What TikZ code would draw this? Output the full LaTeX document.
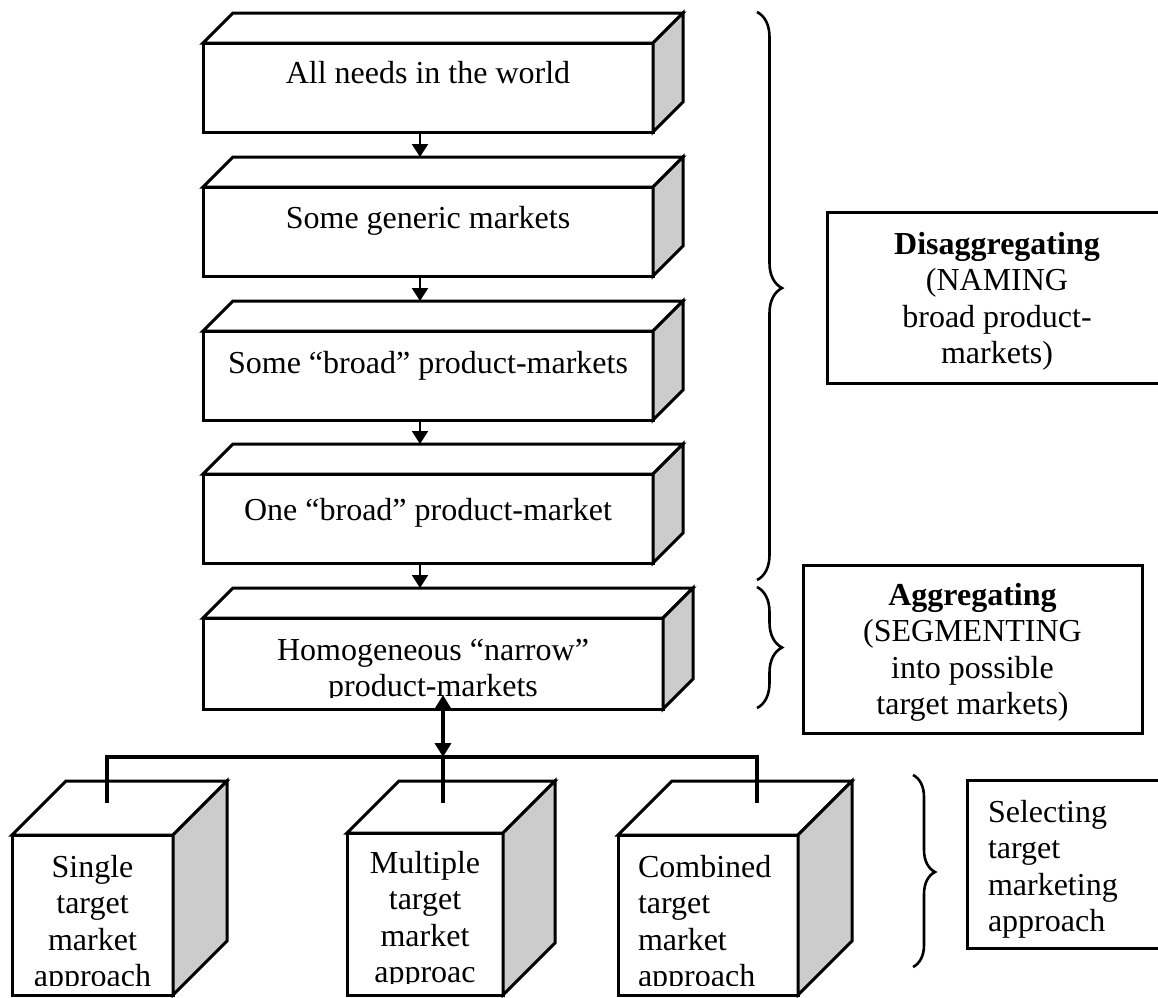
\documentclass[tikz,border=0pt]{standalone}
\usepackage{fontspec}
\setmainfont{Liberation Serif}
\usetikzlibrary{arrows.meta,decorations.pathreplacing,calc}

\definecolor{sideshade}{RGB}{204,204,204}

\tikzset{
  face/.style={draw, line width=3pt, fill=white, inner sep=0pt, outer sep=0pt},
  rim/.style={draw, line width=3pt},
  lbl/.style={inner sep=0pt, outer sep=0pt, font=\fontsize{32}{36.5}\selectfont},
  flow/.style={line width=2pt, -{Triangle[width=16pt,length=13pt]}},
  busline/.style={line width=4pt},
  hubarrow/.style={line width=4pt, {Triangle[width=16pt,length=14pt]}-{Triangle[width=16pt,length=14pt]}},
  curly/.style={decorate, decoration={brace, amplitude=#1}, line width=2.6pt},
  panel/.style={draw, line width=3pt, inner sep=0pt, outer sep=0pt},
}

% a box with a lit top face and a shaded right side:
% name, left, top, width, height, depth
\newcommand{\prism}[6]{%
  \node[face, anchor=north west, minimum width=#4pt, minimum height=#5pt] (#1) at (#2,#3) {};
  \draw[rim, fill=white] (#1.north west) -- ++(#6,-#6) -- ++(#4,0) -- (#1.north east) -- cycle;
  \draw[rim, fill=sideshade] (#1.north east) -- ++(#6,-#6) -- ++(0,#5) -- (#1.south east) -- cycle;
  \coordinate (#1-back) at ($(#1.north)+(#6,-#6)$);
}

\begin{document}
\begin{tikzpicture}[x=1pt, y=-1pt]
  \useasboundingbox (0,0) rectangle (1158,997);
  \clip (0,0) rectangle (1158,997);

  % the chain of market levels
  \prism{B1}{203}{43}{450}{89}{30}
  \prism{B2}{203}{187}{450}{89}{30}
  \prism{B3}{203}{331}{450}{89}{30}
  \prism{B4}{203}{474}{450}{89}{30}
  \prism{B5}{203}{618}{460}{91}{30}

  \node[lbl, anchor=base] (t1) at (428,83) {All needs in the world};
  \node[lbl, anchor=base] (t2) at (428,228) {Some generic markets};
  \node[lbl, anchor=base] (t3) at (428,373) {Some “broad” product-markets};
  \node[lbl, anchor=base] (t4) at (428,520) {One “broad” product-market};
  \begin{scope}
    \clip (B5.north west) rectangle ($(B5.south east)+(0,-12)$);
    \node[lbl, align=center, anchor=north] (t5) at (433,634.45)
      {\strut Homogeneous “narrow”\\product-markets};
  \end{scope}

  \foreach \a/\b in {B1/B2, B2/B3, B3/B4, B4/B5} {
    \coordinate (\a go) at ([xshift=-8pt]\a.south);
    \draw[flow] (\a go) -- (\a go |- \b-back);
  }

  % the three targeting approaches
  \prism{C1}{12}{835}{161}{160}{54}
  \prism{C2}{347}{833}{156}{162}{52}
  \prism{C3}{618}{835}{180}{160}{54}

  \begin{scope}
    \clip (C1.north west) rectangle ($(C1.south east)+(0,-10)$);
    \node[lbl, align=center, anchor=north] (s1) at (92.5,851.45)
      {\strut Single\\target\\market\\approach};
  \end{scope}
  \begin{scope}
    \clip (C2.north west) rectangle ($(C2.south east)+(0,-12)$);
    \node[lbl, align=center, anchor=north] (s2) at (425,847.45)
      {\strut Multiple\\target\\market\\approac};
  \end{scope}
  \begin{scope}
    \clip (C3.north west) rectangle ($(C3.south east)+(0,-10)$);
    \node[lbl, align=left, anchor=north west] (s3) at (638,851.45)
      {\strut Combined\\target\\market\\approach};
  \end{scope}

  % distribution bus
  \coordinate (hub) at (443,757);
  \coordinate (hubtop) at ($(B5.south -| hub)+(0,-14)$);
  \coordinate (C1in) at ($(C1.north)+(14.5,-32)$);
  \coordinate (C2in) at ($(C2.north)+(18,-30)$);
  \coordinate (C3in) at ($(C3.north)+(49,-32)$);
  \draw[busline] (C1in) -- (C1in |- hub) -- (C3in |- hub) -- (C3in);
  \draw[busline] (hub) -- (C2in);
  \draw[hubarrow] (hubtop) -- (hub);

  % braces
  \draw[curly=25pt, decoration={aspect=0.486}] (757,12) -- (757,580);
  \draw[curly=25pt, decoration={aspect=0.5}] (757,587) -- (757,708);
  \draw[curly=22pt, decoration={aspect=0.505}] (913,775) -- (913,967);

  % stage labels
  \node[panel, anchor=north west, minimum width=345pt, minimum height=171pt] (dis) at (827,212) {};
  \node[lbl, align=center, anchor=north] (dist) at (997,228.45)
    {\strut\textbf{Disaggregating}\\(NAMING\\broad product-\\markets)};

  \node[panel, anchor=north west, minimum width=339pt, minimum height=168pt] (agg) at (803,565) {};
  \node[lbl, align=center, anchor=north] (aggt) at (972.5,579.45)
    {\strut\textbf{Aggregating}\\(SEGMENTING\\into possible\\target markets)};

  \node[panel, anchor=north west, minimum width=210pt, minimum height=168pt] (sel) at (967,780) {};
  \node[lbl, align=left, anchor=north west] (selt) at (988,796.45)
    {\strut Selecting\\target\\marketing\\approach};
\end{tikzpicture}
\end{document}
